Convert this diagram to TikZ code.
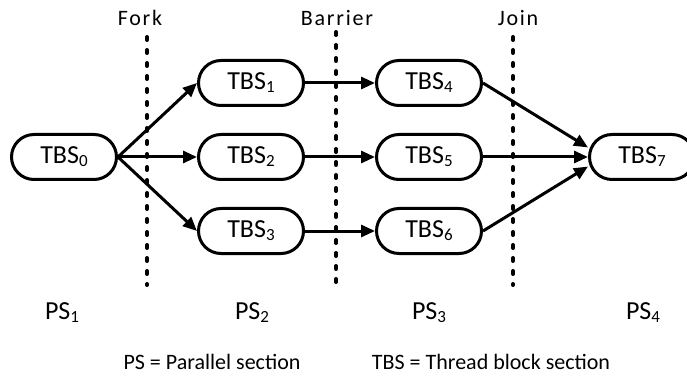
\documentclass[tikz,border=0pt]{standalone}
\usepackage{fontspec}
\setmainfont{Carlito}
\newfontfamily\spacedlbl{Carlito}[LetterSpace=8]
\usetikzlibrary{arrows.meta}
% lowered, smaller index digit
\newcommand\idx[1]{\raisebox{-3pt}{\fontsize{17}{17}\selectfont#1}}
\begin{document}
\begin{tikzpicture}[x=1pt,y=-1pt,
  tbs/.style={draw,line width=3pt,rounded corners=22.5pt,
    minimum width=105pt,minimum height=45pt,inner sep=0pt,
    font=\fontsize{26}{26}\selectfont},
  flow/.style={line width=3pt,-{Triangle[length=14pt,width=12pt]}},
  sync/.style={line width=4pt,line cap=round,dash pattern=on 3pt off 10pt},
  phase/.style={anchor=base,font=\spacedlbl\fontsize{22}{22}\selectfont},
  pslbl/.style={anchor=base,font=\fontsize{26}{26}\selectfont},
  legend/.style={anchor=base,font=\fontsize{22}{22}\selectfont}]
\useasboundingbox (0,0) rectangle (687,379);
\clip (0,0) rectangle (687,379);

% synchronisation points
\coordinate (forkT) at (147,37);    \coordinate (forkB) at (147,285);
\coordinate (barT)  at (336,32);    \coordinate (barB)  at (336,285);
\coordinate (joinT) at (513,37);    \coordinate (joinB) at (513,285);
\draw[sync] (forkT) -- (forkB);
\draw[sync] (barT) -- (barB);
\draw[sync] (joinT) -- (joinB);

\node[phase] (fork) at (140,26) {Fork};
\node[phase] (bar)  at (337,26) {Barrier};
\node[phase] (join) at (518,26) {Join};

% thread block sections
\node[tbs] (t0) at (64,157)  {TBS\idx{0}};
\node[tbs] (t1) at (251,83)  {TBS\idx{1}};
\node[tbs] (t2) at (251,157) {TBS\idx{2}};
\node[tbs] (t3) at (251,231) {TBS\idx{3}};
\node[tbs] (t4) at (429,83)  {TBS\idx{4}};
\node[tbs] (t5) at (429,157) {TBS\idx{5}};
\node[tbs] (t6) at (429,231) {TBS\idx{6}};
\node[tbs] (t7) at (642,157) {TBS\idx{7}};

\draw[flow] (t0.east) -- (t1.west);
\draw[flow] (t0.east) -- (t2.west);
\draw[flow] (t0.east) -- (t3.west);
\draw[flow] (t1.east) -- (t4.west);
\draw[flow] (t2.east) -- (t5.west);
\draw[flow] (t3.east) -- (t6.west);
\draw[flow] (t4.east) -- (t7.170);
\draw[flow] (t5.east) -- (t7.west);
\draw[flow] (t6.east) -- (t7.190);

% parallel sections
\node[pslbl] (ps1) at (62,319)  {PS\idx{1}};
\node[pslbl] (ps2) at (252,319) {PS\idx{2}};
\node[pslbl] (ps3) at (429,319) {PS\idx{3}};
\node[pslbl] (ps4) at (643,319) {PS\idx{4}};

\node[legend] (leg1) at (212,369) {PS = Parallel section};
\node[legend] (leg2) at (491,369) {TBS = Thread block section};
\end{tikzpicture}
\end{document}
